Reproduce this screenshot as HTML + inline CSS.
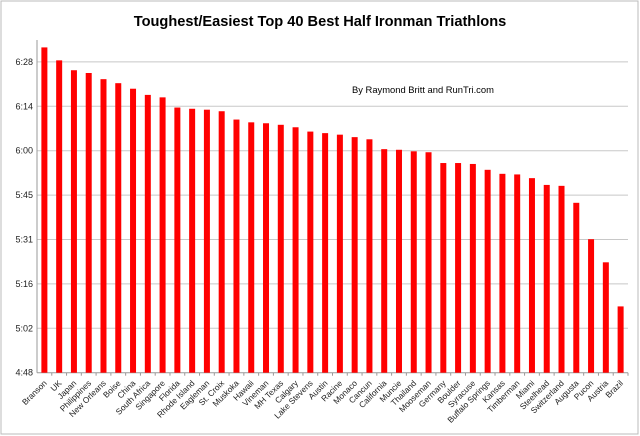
<!DOCTYPE html>
<html><head><meta charset="utf-8"><style>
body{margin:0;background:#fff;}
svg{display:block;font-family:"Liberation Sans",sans-serif;}
</style></head><body>
<svg id="chart" width="640" height="436" viewBox="0 0 640 436" xmlns="http://www.w3.org/2000/svg">
<rect x="1" y="1" width="637" height="433" fill="#fff" stroke="#bbb" stroke-width="1"/>
<text x="320" y="26" text-anchor="middle" font-size="14.6" font-weight="bold" fill="#000">Toughest/Easiest Top 40 Best Half Ironman Triathlons</text>
<text x="352" y="93" font-size="9.4" fill="#000">By Raymond Britt and RunTri.com</text>
<g id="grid"></g><g id="bars"></g><g id="labels"></g>
</svg>
<script>
const categories=["Branson","UK","Japan","Philippines","New Orleans","Boise","China","South Africa","Singapore","Florida","Rhode Island","Eagleman","St. Croix","Muskoka","Hawaii","Vineman","MH Texas","Calgary","Lake Stevens","Austin","Racine","Monaco","Cancun","California","Muncie","Thailand","Mooseman","Germany","Boulder","Syracuse","Buffalo Springs","Kansas","Timberman","Miami","Steelhead","Switzerland","Augusta","Pucon","Austria","Brazil"];
const minutes=[393.5,389.3,386.1,385.2,383.2,381.9,380.1,378.1,377.3,374.0,373.6,373.3,372.8,370.1,369.2,368.9,368.4,367.6,366.2,365.7,365.2,364.4,363.7,360.5,360.3,359.8,359.5,356.0,356.0,355.7,353.8,352.5,352.3,351.1,348.9,348.6,343.1,331.3,323.8,309.5];
const tickValues=[288,302.4,316.8,331.2,345.6,360,374.4,388.8];
const tickLabels=["4:48","5:02","5:16","5:31","5:45","6:00","6:14","6:28"];
const NS="http://www.w3.org/2000/svg";
const x0=37,x1=628,yBase=372.7,pxPerMin=44.4/14.4;
const y=v=>yBase-(v-288)*pxPerMin;
const step=(x1-x0)/categories.length;
const xc=i=>x0+step*(i+0.5);
function mk(t,a,p){const e=document.createElementNS(NS,t);for(const k in a)e.setAttribute(k,a[k]);p.appendChild(e);return e;}
const g=document.getElementById('grid'),b=document.getElementById('bars'),l=document.getElementById('labels');
tickValues.forEach((v,i)=>{
 const ln=mk('line',{x1:x0,x2:x1,y1:y(v),y2:y(v),stroke:i===0?'#999':'#c8c8c8','stroke-width':1},g);
 
 
 const t=mk('text',{x:x0-4,y:y(v)+3,'text-anchor':'end','font-size':9,fill:'#222'},g);
 t.textContent=tickLabels[i];
 
 
});
const ax=mk('line',{x1:x0,x2:x0,y1:40,y2:yBase,stroke:'#999','stroke-width':1},g);


categories.forEach((c,i)=>{
 const r=mk('rect',{x:xc(i)-3,y:y(minutes[i]),width:6,height:yBase-y(minutes[i]),fill:'#ff0000'},b);
 
 
 const tk=mk('line',{x1:x0+step*(i+1),x2:x0+step*(i+1),y1:yBase,y2:yBase+3,stroke:'#999'},g);
 
 
 const t=mk('text',{x:xc(i)+3,y:yBase+11,'text-anchor':'end','font-size':8.3,fill:'#222',transform:`rotate(-45 ${xc(i)+3} ${yBase+11})`},l);
 t.textContent=c;
 
 
});
</script>
</body></html>
